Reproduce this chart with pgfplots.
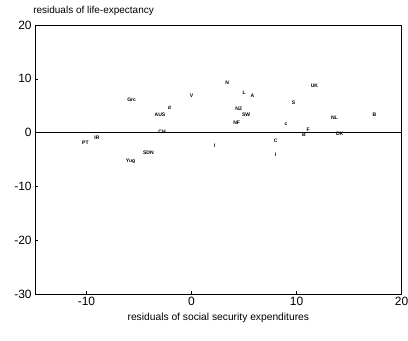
\documentclass[border=0pt]{standalone}
\usepackage{fontspec}
\setmainfont{Liberation Sans}
\usepackage{pgfplots}
\pgfplotsset{compat=1.18}
\usepackage{pgfplotstable}
\pgfplotstableread{
x y label
-10.1 -1.9 PT
-9.0 -1.0 IR
-5.7 6.1 Grc
-2.1 4.6 d
0.0 6.8 V
-3.0 3.3 AUS
-2.8 0.1 CH
-4.1 -3.7 SDN
-5.8 -5.3 Yug
2.2 -2.5 I
3.4 9.2 N
11.7 8.7 UK
5.0 7.4 L
5.8 6.8 A
9.7 5.5 S
4.5 4.4 NZ
5.2 3.4 SW
13.6 2.7 NL
17.4 3.3 B
4.3 1.8 NF
9.0 1.6 c
11.1 0.5 F
10.7 -0.4 B
14.1 -0.3 DK
8.0 -1.6 C
8.0 -4.2 I
}\datatable
\begin{document}
\begin{tikzpicture}
\useasboundingbox (-26.25pt,-35.25pt) rectangle (279.75pt,220.5pt);
\begin{axis}[
  at={(0,0)}, anchor=south west,
  scale only axis,
  width=275pt, height=201.75pt,
  xmin=-14.9, xmax=20, ymin=-30, ymax=20,
  xtick={-10,0,10,20}, ytick={-30,-20,-10,0,10,20},
  tick style={black, line width=0.4pt},
  major tick length=2.5pt,
  tick align=inside,
  xtick pos=bottom, ytick pos=left,
  axis line style={line width=0.5pt},
  /pgf/number format/assume math mode=true,
  ticklabel style={font=\fontsize{9}{10}\selectfont},
  xticklabel style={yshift=1pt},
  yticklabel style={xshift=1pt},
  clip=false,
]
\addplot[black, line width=0.5pt] coordinates {(-14.9,0) (20,0)};
\addplot[draw=none, nodes near coords, point meta=explicit symbolic,
  nodes near coords align=center,
  every node near coord/.style={font=\fontsize{3.8}{3.8}\selectfont\bfseries, inner sep=0pt, anchor=center}]
  table[x=x, y=y, meta=label] {\datatable};
\node[anchor=base west, inner sep=0pt, font=\fontsize{7.5}{9}\selectfont] at (rel axis cs:0,1) [yshift=8.5pt, xshift=-1.5pt] {residuals of life-expectancy};
\node[anchor=center, inner sep=0pt, font=\fontsize{7.7}{9}\selectfont] at (rel axis cs:0.5,0) [yshift=-18pt] {residuals of social security expenditures};
\end{axis}
\end{tikzpicture}
\end{document}
